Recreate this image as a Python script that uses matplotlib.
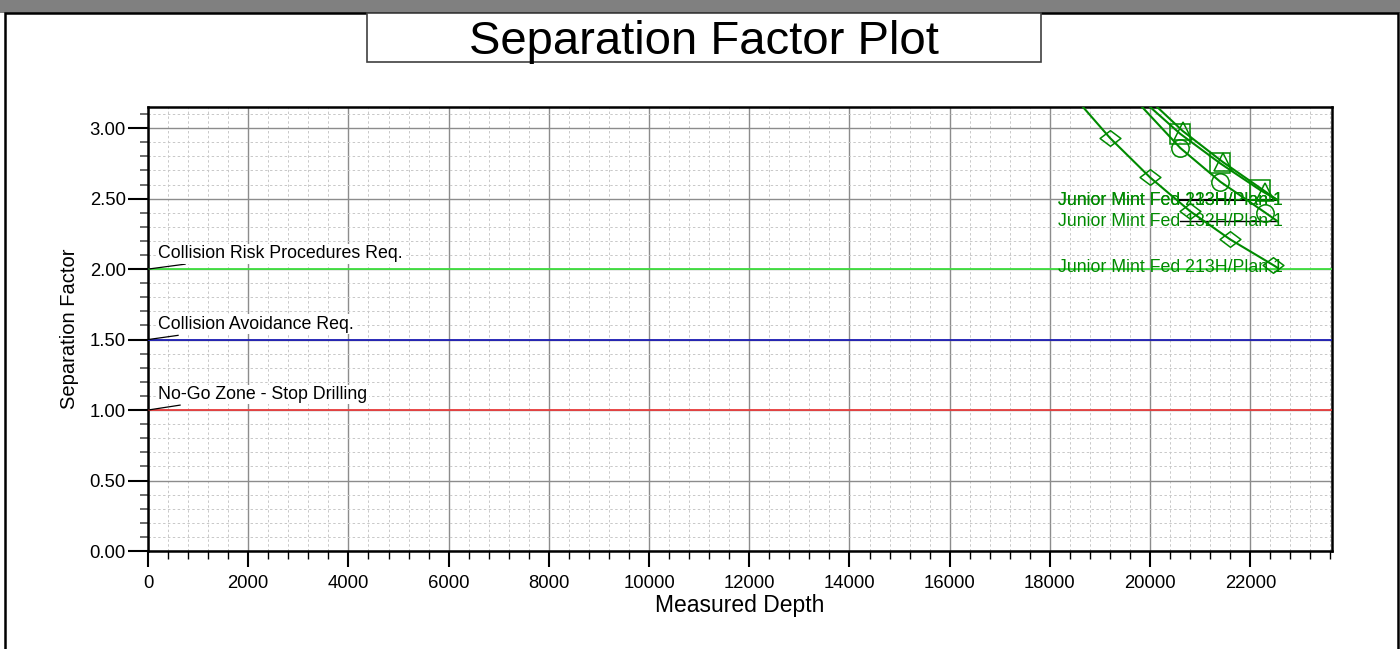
import matplotlib.pyplot as plt
from matplotlib.patches import Rectangle
from matplotlib.path import Path
from matplotlib.ticker import MultipleLocator, FormatStrFormatter

plt.rcParams['font.family'] = ['Liberation Sans', 'DejaVu Sans']

# offset well curves (measured depth, separation factor)
md_213 = [18660, 19200, 20000, 20800, 21600, 22450, 22540]
sf_213 = [3.15, 2.93, 2.65, 2.41, 2.21, 2.03, 2.01]
md_132 = [19840, 20600, 21400, 22300, 22540]
sf_132 = [3.15, 2.86, 2.62, 2.40, 2.34]
md_sq = [20000, 20600, 21400, 22200, 22540]
sf_sq = [3.15, 2.96, 2.75, 2.56, 2.49]
md_tri = [20140, 20650, 21450, 22300, 22540]
sf_tri = [3.15, 2.98, 2.76, 2.55, 2.49]

well_labels = ["Junior Mint Fed 213H/Plan 1", "Junior Mint Fed 133H/Plan 1",
               "Junior Mint Fed 132H/Plan 1", "Junior Mint Fed 213H/Plan 1"]
well_label_y = [2.49, 2.49, 2.34, 2.01]

# threshold lines
limit_values = [2.0, 1.5, 1.0]
limit_names = ["Collision Risk Procedures Req.", "Collision Avoidance Req.",
               "No-Go Zone - Stop Drilling"]
limit_colors = ['#3ee03e', '#1c1cb4', '#e83c3c']

green = '#008a00'

fig = plt.figure(figsize=(14, 6.49), dpi=100)

# window frame stuff
fig.patches.append(Rectangle((0, 1 - 13 / 649), 1, 13 / 649, transform=fig.transFigure,
                             facecolor='#808080', edgecolor='none', zorder=0))
fig.patches.append(Rectangle((5 / 1400, -0.05), 1393 / 1400, 1.05 - 13 / 649,
                             transform=fig.transFigure, facecolor='none',
                             edgecolor='black', lw=1.8, zorder=1))
fig.patches.append(Rectangle((367 / 1400, 1 - 62 / 649), 674 / 1400, 49 / 649,
                             transform=fig.transFigure, facecolor='white',
                             edgecolor='#404040', lw=1.2, zorder=1))
fig.text(704 / 1400, 1 - 42 / 649, "Separation Factor Plot", fontsize=34,
         ha='center', va='center')

ax = fig.add_axes([148 / 1400, 1 - 551 / 649, 1184 / 1400, 444 / 649])

ax.set_xlim(0, 23630)
ax.set_ylim(0, 3.15)

for v, c in zip(limit_values, limit_colors):
    ax.axhline(v, color=c, lw=1.3, zorder=3)

leader_x = [740, 600, 640]
leader_y = [2.035, 1.53, 1.035]
text_y = [2.11, 1.61, 1.11]
for v, name, lx, ly, ty in zip(limit_values, limit_names, leader_x, leader_y, text_y):
    ax.plot([0, lx], [v, ly], color='black', lw=0.9, zorder=4)
    ax.text(200, ty, name, fontsize=12.8, va='center', ha='left', zorder=5,
            bbox=dict(facecolor='white', edgecolor='none', pad=1))

diamond = Path([(-1, 0), (0, 0.75), (1, 0), (0, -0.75), (-1, 0)],
               [Path.MOVETO, Path.LINETO, Path.LINETO, Path.LINETO, Path.CLOSEPOLY])

# black leader lines under labels
ax.plot([20600, 22540], [2.49, 2.49], color='black', lw=1.5, zorder=4)
ax.plot([20600, 22540], [2.34, 2.34], color='black', lw=1.0, zorder=4)

ax.plot(md_213, sf_213, color=green, lw=1.5, marker=diamond, ms=15, mfc='none',
        mec=green, mew=1.1, markevery=[1, 2, 3, 4, 5], zorder=6)
ax.plot(md_132, sf_132, color=green, lw=1.5, marker='o', ms=12.5, mfc='none',
        mec=green, mew=1.1, markevery=[1, 2, 3], zorder=6)
ax.plot(md_sq, sf_sq, color=green, lw=1.5, marker='s', ms=14, mfc='none',
        mec=green, mew=1.1, markevery=[1, 2, 3], zorder=6)
ax.plot(md_tri, sf_tri, color=green, lw=1.5, marker='^', ms=13, mfc='none',
        mec=green, mew=1.1, markevery=[1, 2, 3], zorder=6)

for lab, ly in zip(well_labels, well_label_y):
    ax.text(18170, ly, lab, color=green, fontsize=12.8, va='center', ha='left', zorder=7)

ax.xaxis.set_major_locator(MultipleLocator(2000))
ax.xaxis.set_minor_locator(MultipleLocator(400))
ax.yaxis.set_major_locator(MultipleLocator(0.5))
ax.yaxis.set_minor_locator(MultipleLocator(0.1))
ax.yaxis.set_major_formatter(FormatStrFormatter('%.2f'))

ax.grid(which='major', color='#8c8c8c', lw=1.0, zorder=1)
ax.grid(which='minor', color='#c8c8c8', lw=0.7, linestyle=(0, (2.5, 2.5)), zorder=1)
ax.set_axisbelow(True)

ax.tick_params(axis='y', which='major', length=14.4, width=1.5, labelsize=13.3, pad=1.5)
ax.tick_params(axis='y', which='minor', length=5.8, width=1.3, color='#606060')
ax.tick_params(axis='x', which='major', length=11.5, width=1.5, labelsize=13.3, pad=6)
ax.tick_params(axis='x', which='minor', length=5.8, width=1.0)

for sp in ax.spines.values():
    sp.set_linewidth(1.8)

ax.set_xlabel("Measured Depth", fontsize=16.5, labelpad=1)
ax.set_ylabel("Separation Factor", fontsize=14.5, labelpad=8)

fig.savefig('out.png', dpi=100)
